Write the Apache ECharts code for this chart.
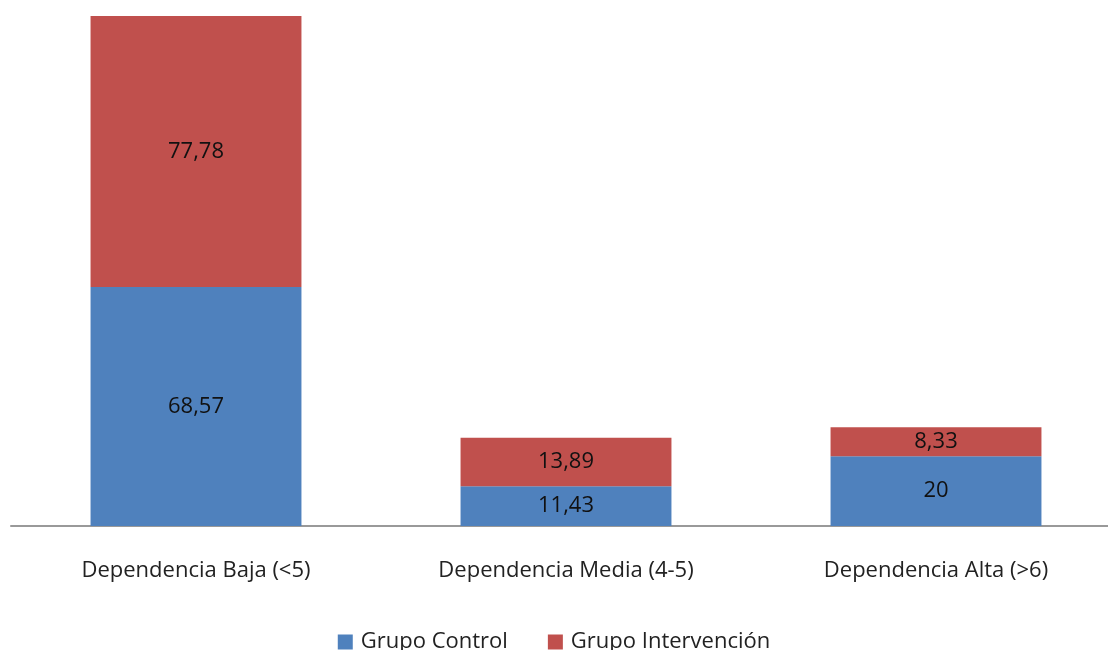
<!DOCTYPE html>
<html>
<head>
<meta charset="utf-8">
<script src="https://cdn.jsdelivr.net/npm/echarts@6/dist/echarts.min.js"></script>
<style>
html, body { margin: 0; padding: 0; background: #fff; }
#divChart { width: 1108px; height: 650px; }
</style>
</head>
<body>
<div id="divChart"></div>
<script>
var categories = ['Dependencia Baja (<5)', 'Dependencia Media (4-5)', 'Dependencia Alta (>6)'];
var grupoControl = [68.57, 11.43, 20];
var grupoIntervencion = [77.78, 13.89, 8.33];

var myChart = echarts.init(document.getElementById('divChart'));

function fmt(p) {
    return String(p.value).replace('.', ',');
}

var option = {
    animation: false,
    grid: { left: 11, top: 16, width: 1110, height: 510, outerBoundsMode: 'none', containLabel: false },
    legend: {
        data: ['Grupo Control', 'Grupo Intervención'],
        top: 626,
        left: 'center',
        icon: 'rect',
        itemWidth: 15,
        itemHeight: 15,
        itemGap: 40,
        textStyle: { fontSize: 22, color: '#222', fontFamily: 'Open Sans', padding: [0, 0, 0, 3] }
    },
    xAxis: {
        type: 'category',
        data: categories,
        axisLine: { lineStyle: { color: '#999', width: 2 } },
        axisTick: { show: false },
        axisLabel: { fontSize: 22, color: '#222', margin: 34, fontFamily: 'Open Sans' }
    },
    yAxis: {
        type: 'value',
        min: 0,
        max: 146.35,
        show: false
    },
    series: [
        {
            name: 'Grupo Control',
            type: 'bar',
            stack: 'total',
            data: grupoControl,
            barWidth: '57%',
            itemStyle: { color: '#4F81BD' },
            label: { show: true, position: 'inside', formatter: fmt, fontSize: 22, color: '#111', fontFamily: 'Open Sans' }
        },
        {
            name: 'Grupo Intervención',
            type: 'bar',
            stack: 'total',
            data: grupoIntervencion,
            barWidth: '57%',
            itemStyle: { color: '#C0504D' },
            label: { show: true, position: 'inside', formatter: fmt, fontSize: 22, color: '#111', fontFamily: 'Open Sans' }
        }
    ]
};
myChart.setOption(option);
</script>
</body>
</html>
